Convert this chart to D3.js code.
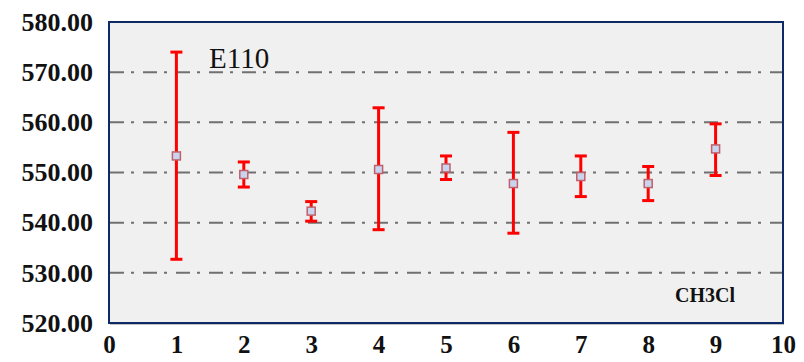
<!DOCTYPE html>
<html>
<head>
<meta charset="utf-8">
<script src="https://cdn.jsdelivr.net/npm/d3@7"></script>
<style>
  body { margin: 0; background: #fff; }
</style>
</head>
<body>
<svg id="drawing_region"></svg>
<script>
// sample index, mean and error bar range
const xs    = [1, 2, 3, 4, 5, 6, 7, 8, 9];
const means = [553.3, 549.6, 542.3, 550.6, 550.9, 547.8, 549.2, 547.8, 554.7];
const highs = [574.0, 552.1, 544.2, 562.9, 553.3, 558.0, 553.3, 551.2, 559.7];
const lows  = [532.7, 547.1, 540.3, 538.6, 548.6, 537.9, 545.2, 544.4, 549.4];
const yTicks = [520, 530, 540, 550, 560, 570, 580];
const xTicks = [0, 1, 2, 3, 4, 5, 6, 7, 8, 9, 10];

const config = {
    width: 804,
    height: 362,
    margin: {top: 22, right: 21, bottom: 39, left: 109}
};

const svg = d3.select('#drawing_region')
    .attr('width', config.width)
    .attr('height', config.height);

const w = config.width - config.margin.left - config.margin.right;
const h = config.height - config.margin.top - config.margin.bottom;

const chart = svg.append('g')
    .attr('transform', `translate(${config.margin.left}, ${config.margin.top})`);

const xScale = d3.scaleLinear().domain([0, 10]).range([0, w]);
const yScale = d3.scaleLinear().domain([520, 580]).range([h, 0]);

// plot area
chart.append('rect')
    .attr('x', 1).attr('y', 2)
    .attr('width', w).attr('height', h)
    .attr('fill', '#c0c0c0');
chart.append('rect')
    .attr('width', w).attr('height', h)
    .attr('fill', '#f0f0f0')
    .attr('stroke', '#0d2a66')
    .attr('stroke-width', 2);

// grid lines
chart.selectAll('.grid')
    .data(yTicks.filter(d => d > 520 && d < 580))
    .enter()
    .append('line')
    .attr('x1', 1).attr('x2', w - 1)
    .attr('y1', d => yScale(d)).attr('y2', d => yScale(d))
    .attr('stroke', '#707070')
    .attr('stroke-width', 2)
    .attr('stroke-dasharray', '14,7,3,9');

// y axis labels
const yAxis = d3.axisLeft(yScale)
    .tickValues(yTicks)
    .tickFormat(d3.format('.2f'))
    .tickSize(0)
    .tickPadding(16);
chart.append('g')
    .call(yAxis)
    .call(g => g.select('.domain').remove())
    .selectAll('text')
    .attr('font-family', '"Liberation Serif", serif')
    .attr('font-weight', 'bold')
    .attr('font-size', '26px')
    .attr('fill', '#111');

// x axis labels
const xAxis = d3.axisBottom(xScale)
    .tickValues(xTicks)
    .tickFormat(d3.format('d'))
    .tickSize(0)
    .tickPadding(12);
chart.append('g')
    .attr('transform', `translate(0, ${h})`)
    .call(xAxis)
    .call(g => g.select('.domain').remove())
    .selectAll('text')
    .attr('font-family', '"Liberation Serif", serif')
    .attr('font-weight', 'bold')
    .attr('font-size', '25px')
    .attr('fill', '#111');

const data = xs.map((x, i) => ({x: x, mean: means[i], high: highs[i], low: lows[i]}));

// error bars
const bars = chart.selectAll('.bar')
    .data(data)
    .enter()
    .append('g');

bars.append('line')
    .attr('x1', d => xScale(d.x)).attr('x2', d => xScale(d.x))
    .attr('y1', d => yScale(d.high)).attr('y2', d => yScale(d.low))
    .attr('stroke', 'red')
    .attr('stroke-width', 3);

['high', 'low'].forEach(k => {
    bars.append('line')
        .attr('x1', d => xScale(d.x) - 6).attr('x2', d => xScale(d.x) + 6)
        .attr('y1', d => yScale(d[k])).attr('y2', d => yScale(d[k]))
        .attr('stroke', 'red')
        .attr('stroke-width', 3);
});

bars.append('rect')
    .attr('x', d => xScale(d.x) - 4)
    .attr('y', d => yScale(d.mean) - 4)
    .attr('width', 8).attr('height', 8)
    .attr('fill', '#c9d5ee')
    .attr('stroke', '#c0606a')
    .attr('stroke-width', 1.5);

// labels
chart.append('text')
    .attr('x', 100).attr('y', 46)
    .attr('font-family', '"Liberation Serif", serif')
    .attr('font-size', '29px')
    .attr('fill', '#111')
    .text('E110');

chart.append('text')
    .attr('x', 566).attr('y', 280)
    .attr('font-family', '"Liberation Serif", serif')
    .attr('font-weight', 'bold')
    .attr('font-size', '21px')
    .attr('textLength', 60)
    .attr('lengthAdjust', 'spacingAndGlyphs')
    .attr('fill', '#111')
    .text('CH3Cl');
</script>
</body>
</html>
